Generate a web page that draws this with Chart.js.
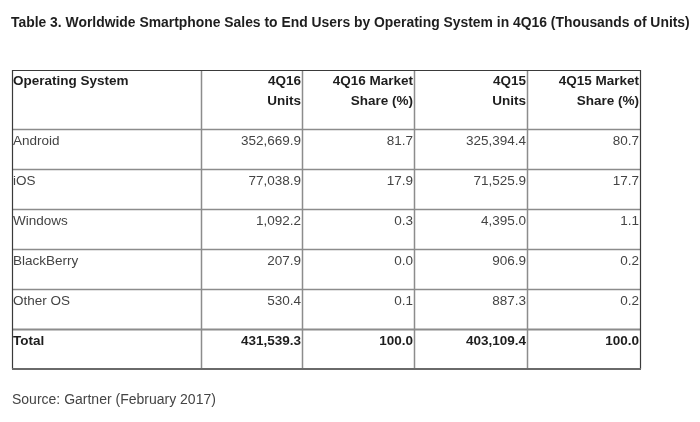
<!DOCTYPE html>
<html>
<head>
<meta charset="utf-8">
<script src="https://cdn.jsdelivr.net/npm/chart.js@4"></script>
<style>
  body { margin: 0; background: #fff; }
  #wrap { width: 700px; height: 422px; position: relative; }
</style>
</head>
<body>
<div id="wrap"><canvas id="tableChart"></canvas></div>
<script>
const titleText = 'Table 3. Worldwide Smartphone Sales to End Users by Operating System in 4Q16 (Thousands of Units)';
const sourceText = 'Source: Gartner (February 2017)';
const headers = [['Operating System'], ['4Q16', 'Units'], ['4Q16 Market', 'Share (%)'], ['4Q15', 'Units'], ['4Q15 Market', 'Share (%)']];
const osNames = ['Android', 'iOS', 'Windows', 'BlackBerry', 'Other OS'];
const units4Q16 = [352669.9, 77038.9, 1092.2, 207.9, 530.4];
const share4Q16 = [81.7, 17.9, 0.3, 0.0, 0.1];
const units4Q15 = [325394.4, 71525.9, 4395.0, 906.9, 887.3];
const share4Q15 = [80.7, 17.7, 1.1, 0.2, 0.2];
const totalLabel = 'Total';
const totalRow = [431539.3, 100.0, 403109.4, 100.0];

// --- layout (table units) ---
const colWidths = [189, 101, 112, 113, 113];
const rowHeights = [59, 40, 40, 40, 40, 40, 40];
const colEdges = [0];
colWidths.forEach(w => colEdges.push(colEdges[colEdges.length - 1] + w));
const rowEdges = [0];
rowHeights.forEach(h => rowEdges.push(rowEdges[rowEdges.length - 1] + h));

function fmt(v) {
    return v.toLocaleString('en-US', { minimumFractionDigits: 1, maximumFractionDigits: 1 });
}

// one anchor point per cell: left edge for the name column, right edge for numbers
const cells = [];
function addCell(col, row, lines, bold) {
    const left = col === 0;
    cells.push({
        x: left ? colEdges[col] : colEdges[col + 1],
        y: rowEdges[row],
        lines: lines,
        align: left ? 'left' : 'right',
        bold: bold,
        header: row === 0
    });
}
headers.forEach((h, c) => addCell(c, 0, h, true));
osNames.forEach((name, i) => {
    const r = i + 1;
    addCell(0, r, [name], false);
    addCell(1, r, [fmt(units4Q16[i])], false);
    addCell(2, r, [fmt(share4Q16[i])], false);
    addCell(3, r, [fmt(units4Q15[i])], false);
    addCell(4, r, [fmt(share4Q15[i])], false);
});
const totalIdx = osNames.length + 1;
addCell(0, totalIdx, [totalLabel], true);
totalRow.forEach((v, i) => addCell(i + 1, totalIdx, [fmt(v)], true));

const FONT = '"Liberation Sans", Arial, sans-serif';

// draws grid lines, cell text, title and source
const tablePlugin = {
    id: 'tablePlugin',
    afterDatasetsDraw(chart) {
        const ctx = chart.ctx;
        const xs = chart.scales.x, ys = chart.scales.y;
        const top = ys.getPixelForValue(0), bottom = ys.getPixelForValue(rowEdges[rowEdges.length - 1]);
        const left = xs.getPixelForValue(0), right = xs.getPixelForValue(colEdges[colEdges.length - 1]);
        ctx.save();

        // inner lines
        ctx.strokeStyle = '#8c8c8c';
        ctx.lineWidth = 1.5;
        colEdges.slice(1, -1).forEach(e => {
            const x = Math.round(xs.getPixelForValue(e)) + 0.5;
            ctx.beginPath(); ctx.moveTo(x, top); ctx.lineTo(x, bottom); ctx.stroke();
        });
        rowEdges.slice(1, -1).forEach((e, i) => {
            const y = Math.round(ys.getPixelForValue(e)) + 0.5;
            ctx.lineWidth = i === rowEdges.length - 3 ? 2 : 1.5;
            ctx.beginPath(); ctx.moveTo(left, y); ctx.lineTo(right, y); ctx.stroke();
        });

        // outer border
        ctx.strokeStyle = '#3a3a3a';
        ctx.lineWidth = 1.2;
        ctx.beginPath();
        ctx.moveTo(Math.round(left) + 0.5, Math.round(bottom));
        ctx.lineTo(Math.round(left) + 0.5, Math.round(top) + 0.5);
        ctx.lineTo(Math.round(right) + 0.5, Math.round(top) + 0.5);
        ctx.lineTo(Math.round(right) + 0.5, Math.round(bottom));
        ctx.stroke();
        ctx.strokeStyle = '#6a6a6a';
        ctx.lineWidth = 2;
        ctx.beginPath();
        ctx.moveTo(left, Math.round(bottom)); ctx.lineTo(right + 1, Math.round(bottom));
        ctx.stroke();

        // cell text
        const meta = chart.getDatasetMeta(0);
        ctx.textBaseline = 'alphabetic';
        meta.data.forEach((pt, i) => {
            const cell = chart.data.datasets[0].data[i];
            ctx.font = (cell.bold ? 'bold ' : '') + '13.5px ' + FONT;
            ctx.fillStyle = cell.bold ? '#1e1e1e' : '#444';
            ctx.textAlign = cell.align;
            const tx = cell.align === 'left' ? pt.x + 1 : pt.x - 1;
            const base = pt.y + (cell.header ? 15 : 16);
            cell.lines.forEach((ln, k) => ctx.fillText(ln, tx, base + k * 20));
        });

        // title and source
        ctx.textAlign = 'left';
        ctx.fillStyle = '#1e1e1e';
        ctx.font = 'bold 13.9px ' + FONT;
        ctx.fillText(titleText, left - 1, 27);
        ctx.fillStyle = '#444';
        ctx.font = '14px ' + FONT;
        ctx.fillText(sourceText, left, 404);
        ctx.restore();
    }
};

document.addEventListener('DOMContentLoaded', function() {
    new Chart(document.getElementById('tableChart'), {
        type: 'scatter',
        data: {
            datasets: [{
                data: cells,
                pointRadius: 0,
                pointHoverRadius: 0
            }]
        },
        options: {
            responsive: true,
            maintainAspectRatio: false,
            animation: false,
            events: [],
            layout: { padding: { left: 12, top: 70, right: 60, bottom: 53 } },
            plugins: {
                legend: { display: false },
                tooltip: { enabled: false }
            },
            scales: {
                x: { type: 'linear', display: false, min: 0, max: colEdges[colEdges.length - 1] },
                y: { type: 'linear', display: false, min: 0, max: rowEdges[rowEdges.length - 1], reverse: true }
            }
        },
        plugins: [tablePlugin]
    });
});
</script>
</body>
</html>
